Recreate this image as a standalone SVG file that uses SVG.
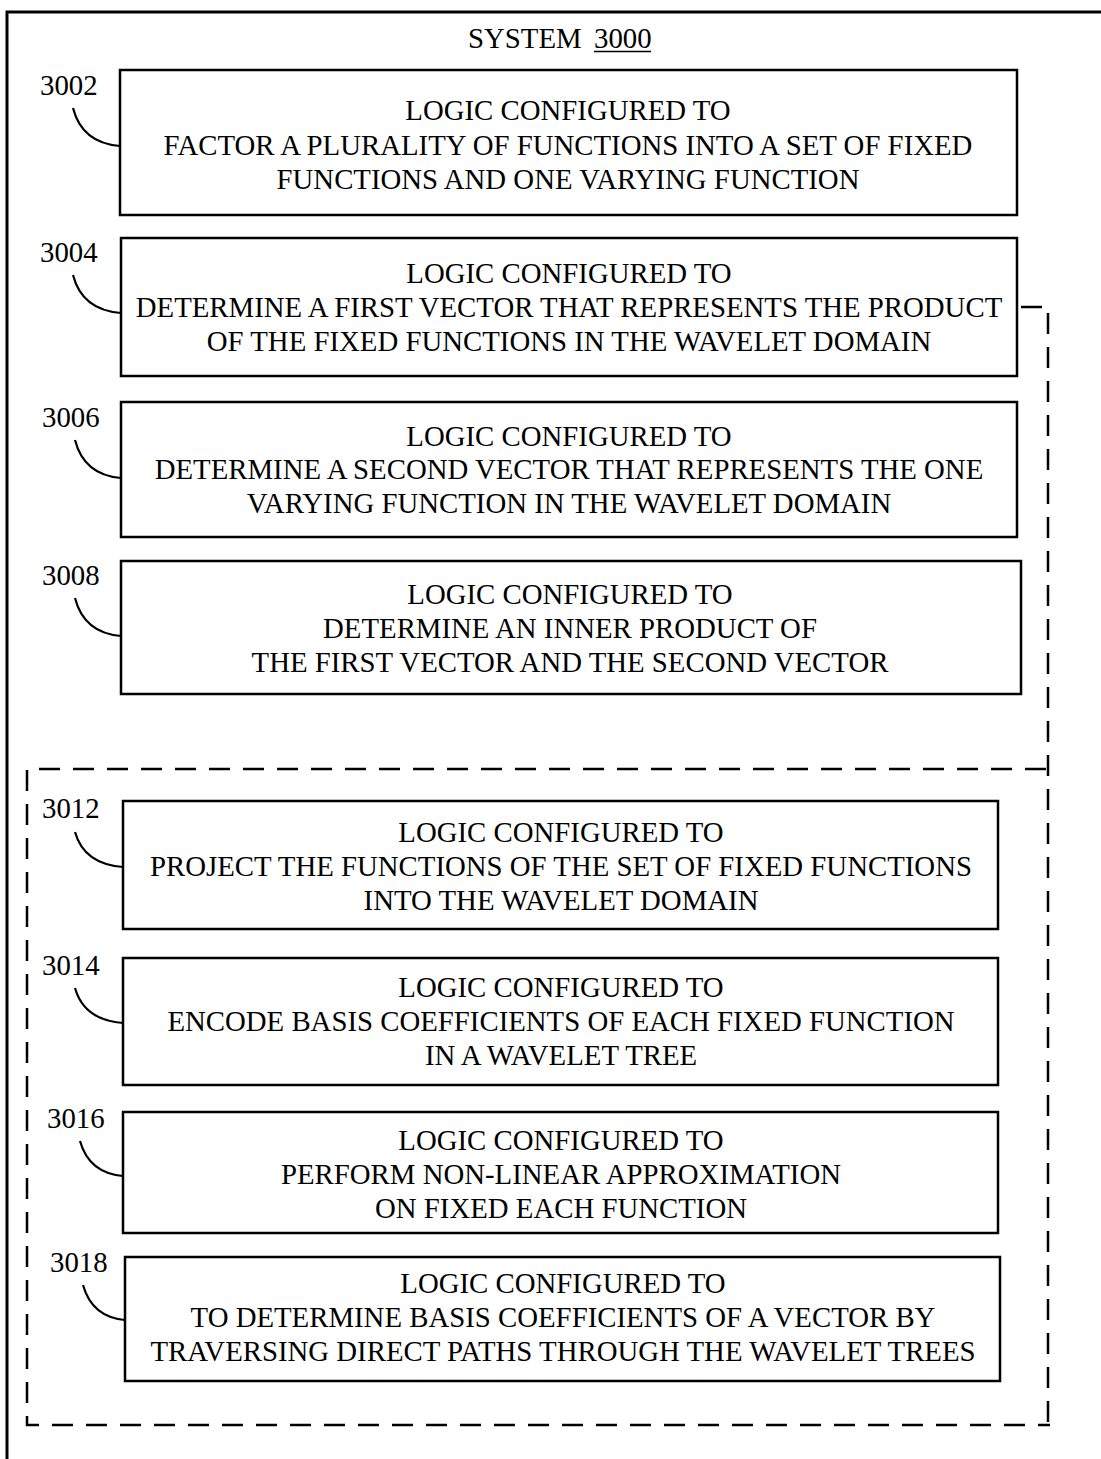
<svg xmlns="http://www.w3.org/2000/svg" width="1101" height="1459" viewBox="0 0 1101 1459">
<style>
.box{fill:none;stroke:#000;stroke-width:2.5}
.lead{fill:none;stroke:#000;stroke-width:2.2}
.dash{fill:none;stroke:#000;stroke-width:2.5;stroke-dasharray:21 13}
text{font-family:"Liberation Serif","Times New Roman",serif;font-size:28.8px;fill:#000}
.c{text-anchor:middle}
</style>
<rect width="1101" height="1459" fill="#fff"/>
<path d="M7,1459 V12 H1101" fill="none" stroke="#000" stroke-width="3"/>
<g id="title">
<text x="468" y="48">SYSTEM</text>
<text x="594" y="48">3000</text>
<line x1="594" y1="51.5" x2="651" y2="51.5" stroke="#000" stroke-width="1.6"/>
</g>
<g id="connectors">
<path class="lead" d="M73,108 Q82,143 120,146"/>
<path class="lead" d="M73,275 Q82,310 121,313"/>
<path class="lead" d="M75,440 Q84,475 121,478"/>
<path class="lead" d="M75,598 Q84,633 121,636"/>
<path class="lead" d="M75,832 Q84,864 123,867"/>
<path class="lead" d="M75,988 Q84,1020 123,1023"/>
<path class="lead" d="M80,1141 Q89,1173 123,1176"/>
<path class="lead" d="M83,1285 Q92,1317 125,1320"/>
<path class="dash" d="M1021,307 H1045"/>
<path class="dash" d="M1048,313 V1425"/>
<path class="dash" d="M1046,769 H27 V1425 H1050"/>
</g>
<g id="n3002">
<text x="40" y="95">3002</text>
<rect class="box" x="120" y="70" width="897" height="145"/>
<text class="c" x="568" y="120">LOGIC CONFIGURED TO</text>
<text class="c" x="568" y="155">FACTOR A PLURALITY OF FUNCTIONS INTO A SET OF FIXED</text>
<text class="c" x="568" y="189">FUNCTIONS AND ONE VARYING FUNCTION</text>
</g>
<g id="n3004">
<text x="40" y="262">3004</text>
<rect class="box" x="121" y="238" width="896" height="138"/>
<text class="c" x="569" y="283">LOGIC CONFIGURED TO</text>
<text class="c" x="569" y="317">DETERMINE A FIRST VECTOR THAT REPRESENTS THE PRODUCT</text>
<text class="c" x="569" y="351">OF THE FIXED FUNCTIONS IN THE WAVELET DOMAIN</text>
</g>
<g id="n3006">
<text x="42" y="427">3006</text>
<rect class="box" x="121" y="402" width="896" height="135"/>
<text class="c" x="569" y="446">LOGIC CONFIGURED TO</text>
<text class="c" x="569" y="479">DETERMINE A SECOND VECTOR THAT REPRESENTS THE ONE</text>
<text class="c" x="569" y="513">VARYING FUNCTION IN THE WAVELET DOMAIN</text>
</g>
<g id="n3008">
<text x="42" y="585">3008</text>
<rect class="box" x="121" y="561" width="900" height="133"/>
<text class="c" x="570" y="604">LOGIC CONFIGURED TO</text>
<text class="c" x="570" y="638">DETERMINE AN INNER PRODUCT OF</text>
<text class="c" x="570" y="672">THE FIRST VECTOR AND THE SECOND VECTOR</text>
</g>
<g id="n3012">
<text x="42" y="818">3012</text>
<rect class="box" x="123" y="801" width="875" height="128"/>
<text class="c" x="561" y="842">LOGIC CONFIGURED TO</text>
<text class="c" x="561" y="876">PROJECT THE FUNCTIONS OF THE SET OF FIXED FUNCTIONS</text>
<text class="c" x="561" y="910">INTO THE WAVELET DOMAIN</text>
</g>
<g id="n3014">
<text x="42" y="975">3014</text>
<rect class="box" x="123" y="958" width="875" height="127"/>
<text class="c" x="561" y="997">LOGIC CONFIGURED TO</text>
<text class="c" x="561" y="1031">ENCODE BASIS COEFFICIENTS OF EACH FIXED FUNCTION</text>
<text class="c" x="561" y="1065">IN A WAVELET TREE</text>
</g>
<g id="n3016">
<text x="47" y="1128">3016</text>
<rect class="box" x="123" y="1112" width="875" height="121"/>
<text class="c" x="561" y="1150">LOGIC CONFIGURED TO</text>
<text class="c" x="561" y="1184">PERFORM NON-LINEAR APPROXIMATION</text>
<text class="c" x="561" y="1218">ON FIXED EACH FUNCTION</text>
</g>
<g id="n3018">
<text x="50" y="1272">3018</text>
<rect class="box" x="125" y="1257" width="875" height="124"/>
<text class="c" x="563" y="1293">LOGIC CONFIGURED TO</text>
<text class="c" x="563" y="1327">TO DETERMINE BASIS COEFFICIENTS OF A VECTOR BY</text>
<text class="c" x="563" y="1361">TRAVERSING DIRECT PATHS THROUGH THE WAVELET TREES</text>
</g>
</svg>
